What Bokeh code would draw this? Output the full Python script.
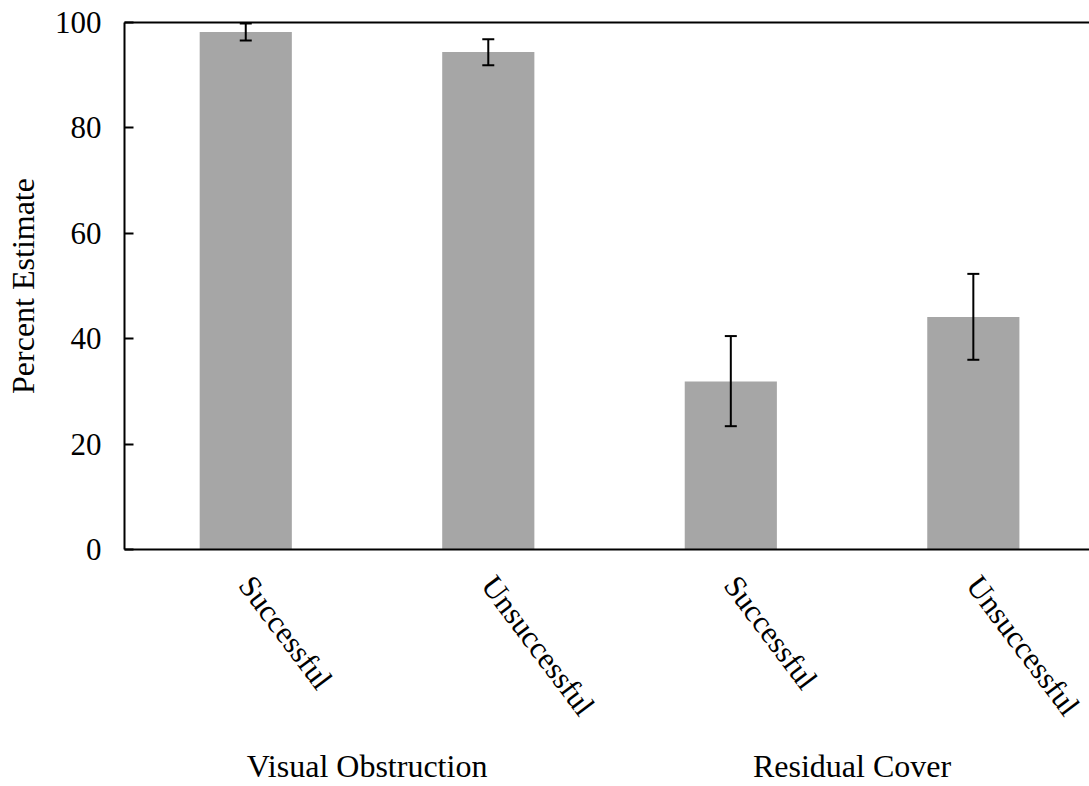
from bokeh.plotting import figure
from bokeh.models import (ColumnDataSource, Range1d, FixedTicker, LinearAxis,
                          Whisker, TeeHead)
from bokeh.embed import file_html
from bokeh.resources import INLINE

# ---- data ----
groups = ["Visual Obstruction", "Visual Obstruction", "Residual Cover", "Residual Cover"]
categories = ["Successful", "Unsuccessful", "Successful", "Unsuccessful"]
values = [98.2, 94.4, 31.9, 44.1]
err_low = [96.6, 91.9, 23.4, 36.0]
err_high = [99.8, 96.8, 40.5, 52.3]
y_ticks = [0, 20, 40, 60, 80, 100]

xs = list(range(len(categories)))
src = ColumnDataSource(dict(x=xs, top=values, lower=err_low, upper=err_high))

FONT = "Liberation Serif"

p = figure(width=1089, height=786, output_backend="svg", toolbar_location=None,
           x_range=Range1d(-0.5, 3.479), y_range=Range1d(0, 100),
           min_border_left=124, min_border_right=0, min_border_top=22,
           min_border_bottom=236, x_axis_type=None)
p.outline_line_color = None
p.xgrid.visible = False
p.ygrid.visible = False
p.background_fill_color = "white"
p.border_fill_color = "white"

p.vbar(x="x", top="top", width=0.38, source=src, fill_color="#A6A6A6",
       line_color=None)

w = Whisker(base="x", lower="lower", upper="upper", source=src,
            line_color="black", line_width=2, level="overlay",
            upper_head=TeeHead(size=12, line_color="black", line_width=2),
            lower_head=TeeHead(size=12, line_color="black", line_width=2))
p.add_layout(w)

# y axis
ya = p.yaxis[0]
ya.ticker = FixedTicker(ticks=y_ticks)
ya.minor_tick_line_color = None
ya.major_tick_in = 9
ya.major_tick_out = 0
ya.major_tick_line_width = 2
ya.axis_line_width = 2
ya.axis_line_color = "black"
ya.major_tick_line_color = "black"
ya.major_label_text_font = FONT
ya.major_label_text_font_size = "31px"
ya.major_label_text_color = "black"
ya.major_label_standoff = 23
ya.axis_label = "Percent Estimate"
ya.axis_label_text_font = FONT
ya.axis_label_text_font_size = "32px"
ya.axis_label_text_font_style = "normal"
ya.axis_label_text_color = "black"
ya.axis_label_standoff = 11

# category axis
xa = LinearAxis(ticker=FixedTicker(ticks=xs),
                major_label_overrides={i: c for i, c in enumerate(categories)})
xa.major_tick_in = 0
xa.major_tick_out = 0
xa.minor_tick_line_color = None
xa.axis_line_width = 2
xa.axis_line_color = "black"
xa.major_label_text_font = FONT
xa.major_label_text_font_size = "31px"
xa.major_label_text_color = "black"
xa.major_label_orientation = -0.925
xa.major_label_standoff = 30
p.add_layout(xa, "below")

# group axis
group_names = []
for g in groups:
    if g not in group_names:
        group_names.append(g)
group_pos = [sum(i for i, g in enumerate(groups) if g == n) /
             sum(1 for g in groups if g == n) for n in group_names]
ga = LinearAxis(ticker=FixedTicker(ticks=group_pos),
                major_label_overrides={gp: n for gp, n in zip(group_pos, group_names)})
ga.axis_line_color = None
ga.major_tick_line_color = None
ga.minor_tick_line_color = None
ga.major_label_text_font = FONT
ga.major_label_text_font_size = "32px"
ga.major_label_text_color = "black"
ga.major_label_standoff = 6
p.add_layout(ga, "below")

# top frame line
ta = LinearAxis(ticker=FixedTicker(ticks=[]))
ta.axis_line_width = 2
ta.axis_line_color = "black"
ta.major_tick_line_color = None
ta.minor_tick_line_color = None
ta.major_label_text_font_size = "0px"
ta.major_label_standoff = 0
p.add_layout(ta, "above")

open("out.html", "w").write(file_html(p, INLINE))
